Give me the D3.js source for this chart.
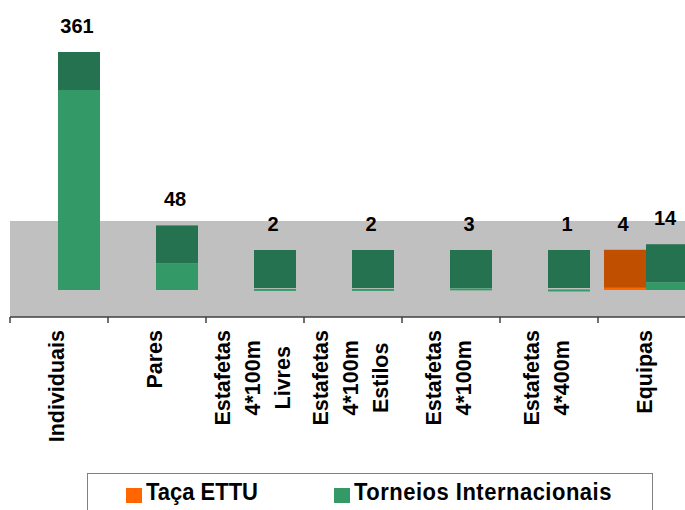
<!DOCTYPE html>
<html>
<head>
<meta charset="utf-8">
<script src="https://cdn.jsdelivr.net/npm/d3@7"></script>
<style>
  body { margin: 0; background: #fff; }
  text { font-family: "Liberation Sans", Arial, sans-serif; font-weight: bold; }
</style>
</head>
<body>
<div id="chart"></div>
<script>
// categories (space = line break in the axis label)
const categories = ['Individuais', 'Pares', 'Estafetas 4*100m Livres', 'Estafetas 4*100m Estilos',
    'Estafetas 4*100m', 'Estafetas 4*400m', 'Equipas'];
const tacaETTU = [null, null, null, null, null, null, 4];
const torneiosInternacionais = [361, 48, 2, 2, 3, 1, 14];
const seriesNames = ['Taça ETTU', 'Torneios Internacionais'];

const width = 685;
const height = 510;
const floorTop = 221;
const axisY = 317;
const baseY = 290;
const topDepth = 38;

const colors = {
    'Taça ETTU': { front: '#ff6600', top: '#c04f00' },
    'Torneios Internacionais': { front: '#339966', top: '#247250' },
};

const svg = d3.select('#chart')
    .append('svg')
    .attr('width', width)
    .attr('height', height);

const x = d3.scaleBand()
    .domain(categories)
    .range([10, 10 + categories.length * 98]);

const xSeries = d3.scaleBand()
    .domain(seriesNames)
    .range([6, 90]);

const y = d3.scaleLinear()
    .domain([0, 361])
    .range([baseY, 90]);

// grey floor band
svg.append('rect')
    .attr('x', 10)
    .attr('y', floorTop)
    .attr('width', width - 10)
    .attr('height', axisY - floorTop)
    .attr('fill', '#c0c0c0');

// flatten data
const bars = [];
categories.forEach((c, i) => {
    [[seriesNames[0], tacaETTU[i]], [seriesNames[1], torneiosInternacionais[i]]].forEach(([s, v]) => {
        if (v !== null) bars.push({ category: c, series: s, value: v });
    });
});

const g = svg.selectAll('g.bar')
    .data(bars)
    .enter()
    .append('g')
    .attr('class', 'bar')
    .attr('transform', (d) => `translate(${x(d.category) + xSeries(d.series)},0)`);

// front face
g.append('rect')
    .attr('x', 0)
    .attr('y', (d) => y(d.value))
    .attr('width', xSeries.bandwidth())
    .attr('height', (d) => Math.max(2, baseY - y(d.value)))
    .attr('fill', (d) => colors[d.series].front);

// top face
g.append('rect')
    .attr('x', 0)
    .attr('y', (d) => Math.min(y(d.value), baseY - 2) - topDepth)
    .attr('width', xSeries.bandwidth())
    .attr('height', topDepth)
    .attr('fill', (d) => colors[d.series].top);

// value labels
g.append('text')
    .attr('x', xSeries.bandwidth() / 2 - 2)
    .attr('y', (d) => Math.min(y(d.value), baseY - 2) - topDepth - 19)
    .attr('text-anchor', 'middle')
    .attr('font-size', 20)
    .text((d) => d.value);

// x axis
const xAxis = svg.append('g')
    .attr('transform', `translate(0,${axisY})`);
xAxis.append('line')
    .attr('x1', 10).attr('x2', width)
    .attr('stroke', '#404040').attr('stroke-width', 1.5);
xAxis.selectAll('line.tick')
    .data(categories)
    .enter()
    .append('line')
    .attr('class', 'tick')
    .attr('x1', (d) => x(d)).attr('x2', (d) => x(d))
    .attr('y1', 0).attr('y2', 6)
    .attr('stroke', '#404040').attr('stroke-width', 1.5);

// rotated category labels
const labelTop = 330;
const linePitch = 30;
categories.forEach((c) => {
    const lines = c.split(' ');
    const lg = svg.append('g');
    const texts = lines.map((t) => lg.append('text')
        .attr('font-size', 21.5)
        .attr('text-anchor', 'middle')
        .text(t));
    const maxLen = d3.max(texts, (t) => t.node().getComputedTextLength());
    const cy = labelTop + maxLen / 2;
    const cx = x(c) + x.bandwidth() / 2 - 1;
    texts.forEach((t, i) => {
        const lx = cx + (i - (lines.length - 1) / 2) * linePitch + 6;
        t.attr('transform', `translate(${lx},${cy}) rotate(-90)`);
    });
});

// legend
const legend = svg.append('g');
legend.append('rect')
    .attr('x', 87.5).attr('y', 473.5)
    .attr('width', 565).attr('height', 50)
    .attr('fill', '#fff')
    .attr('stroke', '#808080');
const legendX = [126, 334];
seriesNames.forEach((s, i) => {
    legend.append('rect')
        .attr('x', legendX[i]).attr('y', 488)
        .attr('width', 16).attr('height', 15)
        .attr('fill', colors[s].front);
    legend.append('text')
        .attr('transform', `translate(${legendX[i] + 20},500) scale(1,1.12)`)
        .attr('font-size', 22)
        .attr('letter-spacing', i === 1 ? 0.5 : 0)
        .text(s);
});
</script>
</body>
</html>
